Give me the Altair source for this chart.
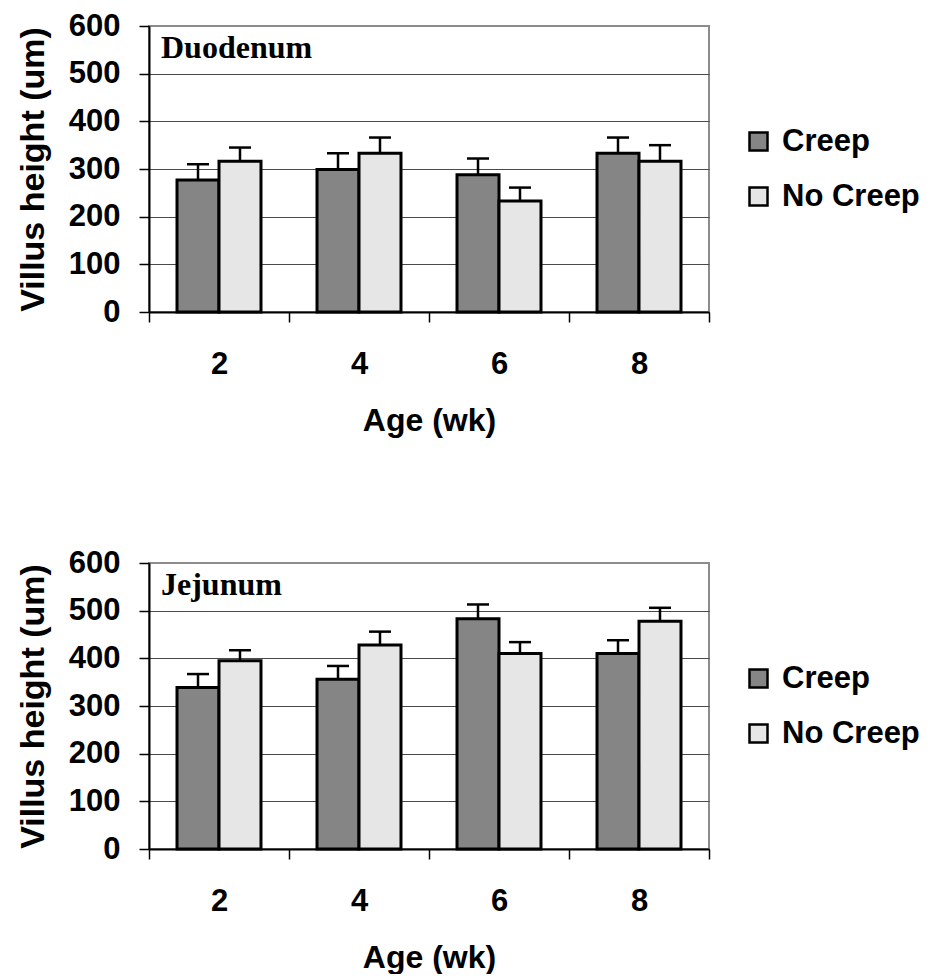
import altair as alt
import pandas as pd

ages = ["2", "4", "6", "8"]
groups = ["Creep", "No Creep"]
panel_names = ["Duodenum", "Jejunum"]

duo_creep = [277, 299, 288, 333]
duo_creep_se = [33, 34, 34, 33]
duo_nocreep = [316, 333, 233, 316]
duo_nocreep_se = [29, 33, 28, 34]

jej_creep = [339, 356, 483, 410]
jej_creep_se = [28, 28, 30, 28]
jej_nocreep = [395, 428, 410, 478]
jej_nocreep_se = [22, 28, 24, 28]

y_ticks = [0, 100, 200, 300, 400, 500, 600]
fill_colors = ["#858585", "#e6e6e6"]

SANS = "Liberation Sans"
SERIF = "Liberation Serif"


def make_df(creep, creep_se, nocreep, nocreep_se):
    rows = []
    for i, a in enumerate(ages):
        rows.append({"Age": a, "Group": groups[0], "Value": creep[i], "Upper": creep[i] + creep_se[i]})
        rows.append({"Age": a, "Group": groups[1], "Value": nocreep[i], "Upper": nocreep[i] + nocreep_se[i]})
    return pd.DataFrame(rows)


def panel(df, name):
    base = alt.Chart(df).encode(
        x=alt.X(
            "Age:N",
            sort=ages,
            scale=alt.Scale(paddingInner=0, paddingOuter=0),
            axis=alt.Axis(
                title="Age (wk)",
                labelAngle=0,
                labelFontSize=31,
                labelFont=SANS,
                labelFontWeight="bold",
                labelColor="black",
                labelPadding=27,
                tickSize=10,
                tickColor="black",
                tickWidth=1.5,
                tickBand="extent",
                domainColor="black",
                domainWidth=2,
                titleFontSize=32,
                titleFont=SANS,
                titleFontWeight="bold",
                titleColor="black",
                titlePadding=26,
            ),
        ),
        xOffset=alt.XOffset(
            "Group:N", sort=groups, scale=alt.Scale(paddingInner=0, paddingOuter=0.667)
        ),
    )
    bars = base.mark_bar(stroke="black", strokeWidth=3).encode(
        y=alt.Y(
            "Value:Q",
            scale=alt.Scale(domain=[0, 600], nice=False),
            axis=alt.Axis(
                title="Villus height (um)",
                values=y_ticks,
                labelFontSize=31,
                labelFont=SANS,
                labelFontWeight="bold",
                labelColor="black",
                labelPadding=19,
                tickSize=10,
                tickColor="black",
                tickWidth=1.5,
                domainColor="black",
                domainWidth=2,
                grid=True,
                gridColor={"condition": {"test": "datum.value === 600", "value": "#8c8c8c"}, "value": "#4a4a4a"},
                gridWidth=1.2,
                titleFontSize=34,
                titleFont=SANS,
                titleFontWeight="bold",
                titleColor="black",
                titlePadding=18,
            ),
        ),
        color=alt.Color(
            "Group:N",
            sort=groups,
            scale=alt.Scale(domain=groups, range=fill_colors),
            legend=alt.Legend(
                title=None,
                orient="none",
                legendX=594,
                legendY=100,
                symbolType="square",
                symbolSize=324,
                symbolStrokeColor="black",
                symbolStrokeWidth=2.5,
                symbolOpacity=1,
                labelFontSize=31,
                labelFont=SANS,
                labelFontWeight="bold",
                labelColor="black",
                labelOffset=8,
                rowPadding=23,
                padding=0,
            ),
        ),
    )
    stems = base.mark_rule(color="black", strokeWidth=2.5).encode(
        y=alt.Y("Value:Q"), y2=alt.Y2("Upper:Q")
    )
    caps = base.mark_tick(color="black", thickness=2.5, size=22, opacity=1).encode(
        y=alt.Y("Upper:Q")
    )
    label = alt.Chart(pd.DataFrame({"label": [name]})).mark_text(
        align="left", baseline="alphabetic", font=SERIF, fontWeight="bold", fontSize=32, color="black"
    ).encode(text="label:N", x=alt.value(12), y=alt.value(32))
    return alt.layer(stems, caps, bars, label).properties(width=560, height=286)


top = panel(make_df(duo_creep, duo_creep_se, duo_nocreep, duo_nocreep_se), panel_names[0])
bottom = panel(make_df(jej_creep, jej_creep_se, jej_nocreep, jej_nocreep_se), panel_names[1])

chart = (
    alt.vconcat(top, bottom, spacing=251, bounds="flush")
    .resolve_scale(color="independent")
    .properties(padding={"left": 15, "top": 9, "right": 0, "bottom": 0}, background="white")
    .configure_view(stroke="#8c8c8c", strokeWidth=2)
)

chart.save("out.html", embed_options={"renderer": "svg", "actions": False})
